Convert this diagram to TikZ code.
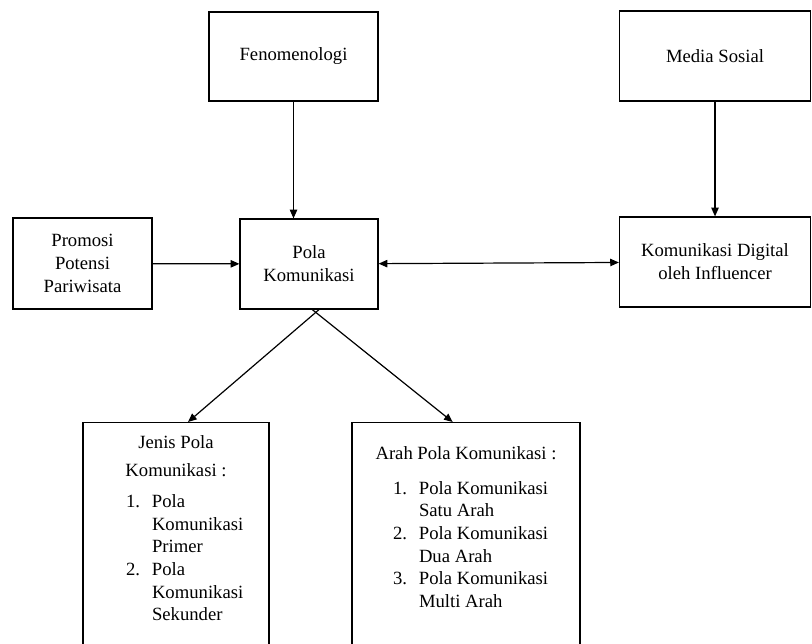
\documentclass[tikz,border=0pt]{standalone}
\usepackage{fontspec}
\setmainfont{Liberation Serif}
\usetikzlibrary{arrows.meta,positioning}
\newcommand{\listnum}[1]{\leavevmode\llap{\makebox[19.5pt][l]{#1}}}
\tikzset{
  box/.style={draw, line width=0.9pt, align=center, inner sep=2pt, font=\fontsize{14}{17.25}\selectfont},
  listbox/.style={draw, line width=0.9pt, anchor=north, inner xsep=0pt, font=\fontsize{14}{17}\selectfont},
  flow/.style={-{Triangle[length=6.5pt, width=5.5pt]}, line width=0.9pt},
  bothflow/.style={{Triangle[length=6.5pt, width=5.5pt]}-{Triangle[length=6.5pt, width=5.5pt]}, line width=0.9pt},
}
\begin{document}
\begin{tikzpicture}[x=0.75pt, y=-0.75pt]
\useasboundingbox (0,0) rectangle (812,643);
\clip (0,0) rectangle (812,643);
\node[box, minimum width=126.75pt, minimum height=66.75pt] (fen) at (293.5,56.5) {Fenomenologi};
\node[box, minimum width=143.25pt, minimum height=67.5pt] (medsos) at (715,56) {Media Sosial};
\node[box, minimum width=104.25pt, minimum height=68.25pt] (promosi) at (82.5,263.5) {Promosi\\Potensi\\Pariwisata};
\node[box, minimum width=103.5pt, minimum height=67.5pt] (pola) at (309,264) {Pola\\Komunikasi};
\node[box, minimum width=143.25pt, minimum height=67.5pt] (digital) at (715,262) {Komunikasi Digital\\oleh Influencer};
% lower boxes, cut at the bottom
\node[listbox, inner ysep=10pt] (jenis) at (176,422) {\begin{minipage}[t][200pt][t]{139.5pt}
  \centering\fontsize{14}{21}\selectfont Jenis Pola\\Komunikasi :\par
  \vspace{6pt}\fontsize{14}{17}\selectfont\raggedright\leftskip=51.75pt
  \listnum{1.}Pola\\Komunikasi\\Primer\\\listnum{2.}Pola\\Komunikasi\\Sekunder\par
\end{minipage}};
\node[listbox, inner ysep=18pt] (arah) at (466,422) {\begin{minipage}[t][200pt][t]{171pt}
  \centering Arah Pola Komunikasi :\par
  \vspace{9pt}\raggedright\leftskip=50.25pt
  \listnum{1.}Pola Komunikasi\\Satu Arah\\\listnum{2.}Pola Komunikasi\\Dua Arah\\\listnum{3.}Pola Komunikasi\\Multi Arah\par
\end{minipage}};
\draw[flow] (fen.south) -- (fen.south |- pola.north);
\draw[flow] (medsos) -- (digital);
\draw[flow] (promosi) -- (pola);
\draw[bothflow] (pola) -- (digital);
\draw[flow] ([xshift=7.5pt]pola.south) -- ([xshift=9pt]jenis.north);
\draw[flow] ([xshift=2.5pt]pola.south) -- ([xshift=-10pt]arah.north);
\end{tikzpicture}
\end{document}
